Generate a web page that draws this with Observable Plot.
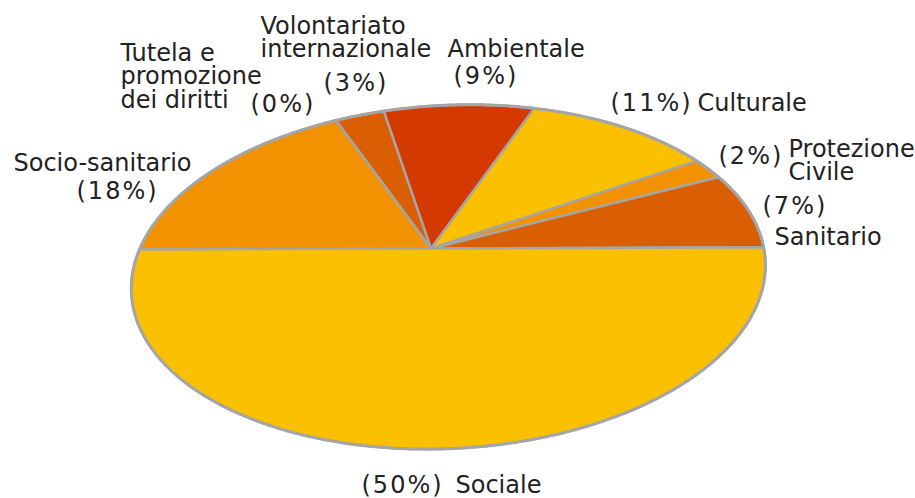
<!DOCTYPE html>
<html><head><meta charset="utf-8">
<script src="https://cdn.jsdelivr.net/npm/d3@7"></script>
<script src="https://cdn.jsdelivr.net/npm/@observablehq/plot@0.6"></script>
<style>body{margin:0;background:#fff}</style>
</head><body><div id="chart"></div>
<script>
// ---- data ----
const categories = ["Sanitario", "Protezione\nCivile", "Culturale", "Ambientale", "Volontariato\ninternazionale", "Tutela e\npromozione\ndei diritti", "Socio-sanitario", "Sociale"];
const values = [7, 2, 11, 9, 3, 0, 18, 50];
const colors = ["#d95f02", "#f29200", "#fbc000", "#d43900", "#d95f02", "#e57a00", "#f29200", "#fbc000"];

// ---- layout: label placement (pixels) ----
const labelLayout = [
  {i: 0, part: "pct", x: 762, y: 206}, {i: 0, part: "name", x: 774, y: 237},
  {i: 1, part: "pct", x: 718, y: 156}, {i: 1, part: "name", x: 788, y: 160.6},
  {i: 2, part: "pct", x: 610, y: 102.6}, {i: 2, part: "name", x: 697, y: 102.6},
  {i: 3, part: "name", x: 447, y: 49.3}, {i: 3, part: "pct", x: 453, y: 76},
  {i: 4, part: "name", x: 260, y: 37.6}, {i: 4, part: "pct", x: 323, y: 82.6},
  {i: 5, part: "name", x: 120, y: 76}, {i: 5, part: "pct", x: 250, y: 103.6},
  {i: 6, part: "name", x: 13, y: 162.6}, {i: 6, part: "pct", x: 76, y: 190.6},
  {i: 7, part: "pct", x: 361, y: 485}, {i: 7, part: "name", x: 455, y: 485}
];

// ---- perspective view of the pie disc: homography from unit disc to pixels ----
const H = [282.08681, 93.68914, 430.37411, -17.51153, -126.09492, 247.93817, -0.06643, 0.16543];
function proj(u, v) { const w = H[6] * u + H[7] * v + 1; return [(H[0] * u + H[1] * v + H[2]) / w, (H[3] * u + H[4] * v + H[5]) / w]; }
function onRim(deg) { const t = deg * Math.PI / 180; return proj(Math.cos(t), Math.sin(t)); }

const total = d3.sum(values);
const ends = d3.cumsum(values).map(v => v / total * 360);
const starts = [0, ...ends.slice(0, -1)];

const slicePts = [];
values.forEach((v, i) => {
  const a0 = starts[i], a1 = ends[i];
  const c = proj(0, 0);
  slicePts.push({i, x: c[0], y: c[1]});
  const n = Math.max(1, Math.ceil((a1 - a0) / 0.5));
  for (let k = 0; k <= n; k++) { const p = onRim(a0 + (a1 - a0) * k / n); slicePts.push({i, x: p[0], y: p[1]}); }
  slicePts.push({i, x: c[0], y: c[1]});
});
const rim = d3.range(0, 360.5, 0.5).map(a => { const p = onRim(a); return {x: p[0], y: p[1]}; });

const labels = labelLayout.map(d => ({
  x: d.x, y: d.y, part: d.part,
  text: d.part === "pct" ? `(${values[d.i]}%)` : categories[d.i]
}));

const textStyle = {x: "x", y: "y", text: "text", textAnchor: "start", lineAnchor: "middle", fontSize: 24, fontFamily: "DejaVu Sans, Verdana, sans-serif", fill: "#222", lineHeight: 0.98};

const chart = Plot.plot({
  width: 915, height: 498, margin: 0,
  x: {domain: [0, 915], range: [0, 915], axis: null},
  y: {domain: [0, 498], range: [0, 498], axis: null},
  color: {type: "identity"},
  marks: [
    Plot.line(slicePts, {x: "x", y: "y", z: "i", fill: d => colors[d.i], stroke: "#a5a5a5", strokeWidth: 2.5, strokeLinejoin: "round"}),
    Plot.line(rim, {x: "x", y: "y", stroke: "#a5a5a5", strokeWidth: 3}),
    Plot.text(labels, textStyle)
  ]
});
d3.select(chart).selectAll("text").filter(function() { return this.textContent.startsWith("("); }).attr("letter-spacing", "2px");
document.getElementById("chart").append(chart);
</script>
</body></html>
